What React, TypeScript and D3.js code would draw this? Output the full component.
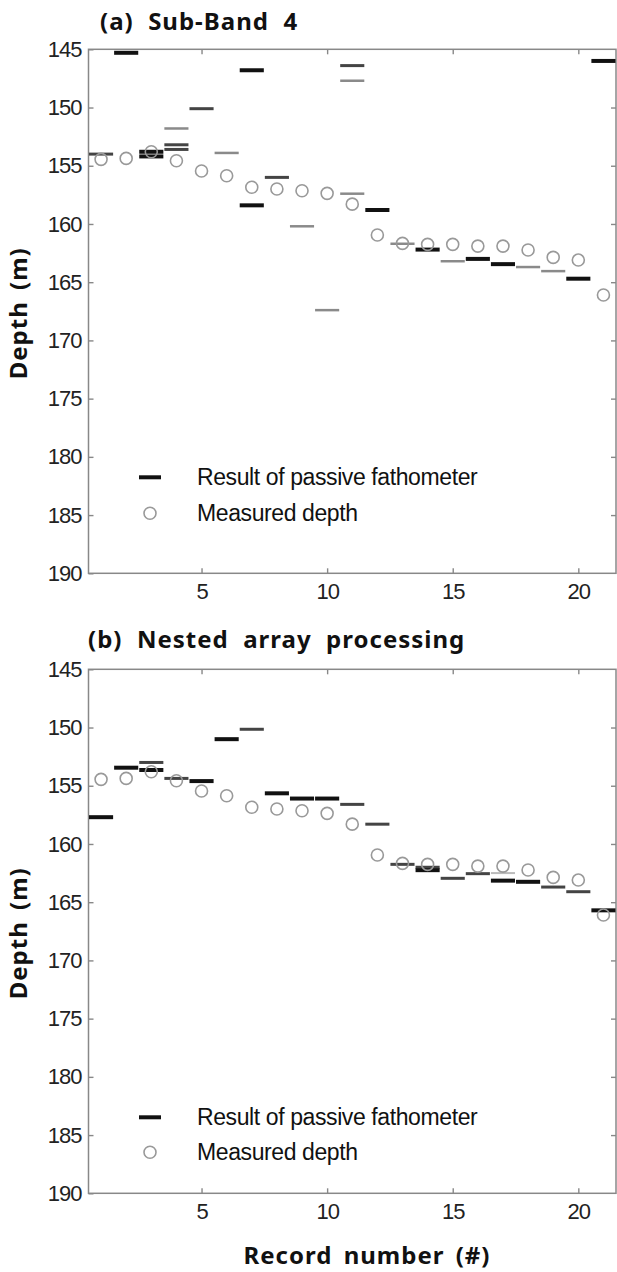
import React, { useEffect, useRef } from 'react';
import * as d3 from 'd3';

// record numbers and measured depth (same for both panels)
const records = [1, 2, 3, 4, 5, 6, 7, 8, 9, 10, 11, 12, 13, 14, 15, 16, 17, 18, 19, 20, 21];
const measuredDepth = [154.45, 154.37, 153.8, 154.57, 155.45, 155.86, 156.85, 157.0, 157.15, 157.37, 158.3,
  160.95, 161.67, 161.75, 161.75, 161.9, 161.9, 162.24, 162.87, 163.1, 166.1];

// (a) Sub-Band 4 - fathometer results
const aStrongRec = [2, 3, 3, 7, 7, 12, 14, 16, 17, 20, 21];
const aStrongDepth = [145.3, 153.8, 154.2, 146.8, 158.4, 158.8, 162.2, 163.0, 163.45, 164.7, 146.0];
const aMediumRec = [1, 4, 4, 5, 8, 11];
const aMediumDepth = [154.0, 153.2, 153.6, 150.1, 156.0, 146.4];
const aWeakRec = [4, 6, 9, 10, 11, 11, 13, 15, 18, 19];
const aWeakDepth = [151.8, 153.9, 160.2, 167.4, 147.7, 157.4, 161.7, 163.2, 163.7, 164.05];

// (b) Nested array processing - fathometer results
const bStrongRec = [1, 2, 3, 5, 6, 8, 9, 10, 14, 17, 18, 21];
const bStrongDepth = [157.7, 153.45, 153.65, 154.6, 151.0, 155.65, 156.1, 156.1, 162.25, 163.15, 163.25, 165.7];
const bMediumRec = [3, 4, 7, 11, 12, 13, 14, 15, 16, 19, 20];
const bMediumDepth = [153.0, 154.37, 150.15, 156.6, 158.3, 161.75, 162.0, 162.95, 162.55, 163.7, 164.1];
const bWeakRec = [17];
const bWeakDepth = [162.5];

const yTicks = [145, 150, 155, 160, 165, 170, 175, 180, 185, 190];
const xTicks = [5, 10, 15, 20];

const panelTitles = ['(a)  Sub-Band  4', '(b)  Nested  array  processing'];
const legendLabels = ['Result of passive fathometer', 'Measured depth'];

const W = 617;
const H = 1272;
const TICK_FONT = '"Liberation Sans", Arial, sans-serif';
const BOLD_FONT = '"Noto Sans", "Open Sans", sans-serif';

export default function App() {
  const svgRef = useRef<SVGSVGElement>(null);

  useEffect(() => {
    const root = d3.select(svgRef.current);
    root.selectAll('*').remove();

    const left = 88.5, right = 616, plotH = 524;
    const x = d3.scaleLinear().domain([0.5, 21.5]).range([left, right]);

    const panels = [
      {
        top: 49.3, title: panelTitles[0], titleX: 100, titleY: 30, legendDy: [428, 464],
        series: [
          { rec: aWeakRec, depth: aWeakDepth, color: '#8a8a8a', w: 2.5 },
          { rec: aMediumRec, depth: aMediumDepth, color: '#444', w: 3 },
          { rec: aStrongRec, depth: aStrongDepth, color: '#111', w: 4 },
        ],
      },
      {
        top: 669.3, title: panelTitles[1], titleX: 88, titleY: 648, legendDy: [448, 483],
        series: [
          { rec: bWeakRec, depth: bWeakDepth, color: '#bbb', w: 2 },
          { rec: bMediumRec, depth: bMediumDepth, color: '#444', w: 3 },
          { rec: bStrongRec, depth: bStrongDepth, color: '#111', w: 4 },
        ],
      },
    ];

    panels.forEach(p => {
      const y = d3.scaleLinear().domain([145, 190]).range([p.top, p.top + plotH]);
      const g = root.append('g');

      // title
      g.append('text')
        .attr('x', p.titleX)
        .attr('y', p.titleY)
        .attr('font-family', BOLD_FONT)
        .attr('font-weight', 'bold')
        .attr('font-size', '24px')
        .attr('letter-spacing', '1px')
        .attr('fill', '#111')
        .style('white-space', 'pre')
        .text(p.title);

      // y label
      g.append('text')
        .attr('transform', `translate(27,${(p.top + p.top + plotH) / 2 + 2}) rotate(-90)`)
        .attr('text-anchor', 'middle')
        .attr('font-family', BOLD_FONT)
        .attr('font-weight', 'bold')
        .attr('font-size', '24px')
        .attr('letter-spacing', '1px')
        .attr('word-spacing', '4px')
        .attr('fill', '#111')
        .text('Depth (m)');

      // axes
      const axL = g.append('g')
        .attr('transform', `translate(${left},0)`)
        .call(d3.axisLeft(y).tickValues(yTicks).tickSize(-5).tickPadding(7));
      const axB = g.append('g')
        .attr('transform', `translate(0,${p.top + plotH})`)
        .call(d3.axisBottom(x).tickValues(xTicks).tickSize(-5).tickPadding(10));
      const axT = g.append('g')
        .attr('transform', `translate(0,${p.top})`)
        .call(d3.axisTop(x).tickValues(xTicks).tickSize(-5).tickFormat(() => ''));
      const axR = g.append('g')
        .attr('transform', `translate(${right},0)`)
        .call(d3.axisRight(y).tickValues(yTicks.slice(1, -1)).tickSize(-5).tickFormat(() => ''));

      [axL, axB, axT, axR].forEach(ax => {
        ax.select('.domain').remove();
        ax.selectAll('line').attr('stroke', '#888').attr('stroke-width', 1.4);
        ax.selectAll('text')
          .attr('font-family', TICK_FONT)
          .attr('font-size', '22px')
          .attr('letter-spacing', '-1px')
          .attr('fill', '#222');
      });

      g.append('rect')
        .attr('x', left)
        .attr('y', p.top)
        .attr('width', right - left)
        .attr('height', plotH)
        .attr('fill', 'none')
        .attr('stroke', '#888')
        .attr('stroke-width', 1.5);

      // fathometer result segments
      p.series.forEach(s => {
        g.selectAll(null)
          .data(s.rec.map((r, i) => ({ r, d: s.depth[i] })))
          .enter()
          .append('line')
          .attr('x1', d => x(Math.max(0.5, d.r - 0.48)))
          .attr('x2', d => x(Math.min(21.5, d.r + 0.48)))
          .attr('y1', d => y(d.d))
          .attr('y2', d => y(d.d))
          .attr('stroke', s.color)
          .attr('stroke-width', s.w);
      });

      // measured depth
      g.selectAll(null)
        .data(records.map((r, i) => ({ r, d: measuredDepth[i] })))
        .enter()
        .append('circle')
        .attr('cx', d => x(d.r))
        .attr('cy', d => y(d.d))
        .attr('r', 6)
        .attr('fill', 'none')
        .attr('stroke', '#999')
        .attr('stroke-width', 1.6);

      // legend
      const ly1 = p.top + p.legendDy[0];
      const ly2 = p.top + p.legendDy[1];
      g.append('line')
        .attr('x1', 139).attr('x2', 161)
        .attr('y1', ly1).attr('y2', ly1)
        .attr('stroke', '#111').attr('stroke-width', 4);
      g.append('circle')
        .attr('cx', 150).attr('cy', ly2).attr('r', 6)
        .attr('fill', 'none').attr('stroke', '#999').attr('stroke-width', 1.6);
      [ly1, ly2].forEach((ly, i) => {
        g.append('text')
          .attr('x', 197)
          .attr('y', ly + 8)
          .attr('font-family', TICK_FONT)
          .attr('font-size', '23px')
          .attr('letter-spacing', '-0.4px')
          .attr('fill', '#111')
          .text(legendLabels[i]);
      });
    });

    // x label
    root.append('text')
      .attr('x', 367)
      .attr('y', 1264)
      .attr('text-anchor', 'middle')
      .attr('font-family', BOLD_FONT)
      .attr('font-weight', 'bold')
      .attr('font-size', '24px')
      .attr('letter-spacing', '1px')
      .attr('word-spacing', '4px')
      .attr('fill', '#111')
      .text('Record number (#)');
  }, []);

  return (
    <svg
      ref={svgRef}
      width={W}
      height={H}
      style={{ position: 'absolute', left: 0, top: 0, display: 'block', background: '#fff' }}
    />
  );
}
